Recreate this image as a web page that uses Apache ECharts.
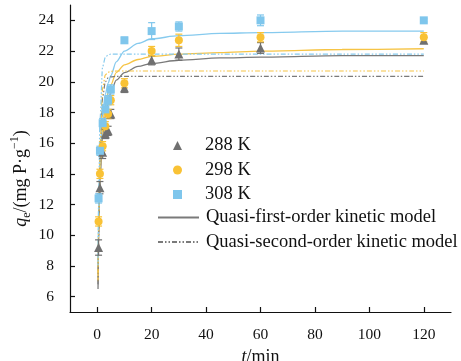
<!DOCTYPE html>
<html>
<head>
<meta charset="UTF-8">
<script src="https://cdn.jsdelivr.net/npm/echarts@6/dist/echarts.min.js"></script>
<style>
  body { margin: 0; padding: 0; background: #fff; }
  #chart { width: 461px; height: 361px; }
</style>
</head>
<body>
<div id="chart"></div>
<script>
// measured adsorption data
const times = [0.5, 1, 2, 3, 4, 5, 10, 20, 30, 60, 120];
const q288 = [9.2, 13.1, 15.4, 16.6, 16.8, 17.9, 19.6, 21.4, 21.8, 22.2, 22.7];
const q298 = [10.9, 14.0, 15.8, 17.1, 17.9, 18.8, 19.9, 22.0, 22.7, 22.9, 22.9];
const q308 = [12.4, 15.5, 17.3, 18.2, 18.8, 19.5, 22.7, 23.3, 23.6, 24.0, 24.0];
const err288 = [0.5, 0.4, 0.4, 0.3, 0.3, 0.3, 0.3, 0.3, 0.4, 0.35, 0.2];
const err298 = [0.3, 0.3, 0.3, 0.3, 0.3, 0.3, 0.3, 0.3, 0.4, 0.3, 0.3];
const err308 = [0.3, 0.3, 0.3, 0.3, 0.3, 0.3, 0.2, 0.55, 0.3, 0.35, 0.1];

// fitted curves
const fitTimes = [0.3, 0.5, 1, 2, 3, 4, 5, 7, 10, 15, 20, 30, 45, 60, 90, 120];
const pfo288 = [6.5, 9.5, 13.5, 16.5, 17.8, 18.7, 19.3, 20.1, 20.6, 21.0, 21.2, 21.4, 21.55, 21.6, 21.7, 21.7];
const pfo298 = [7, 10, 14, 17.2, 18.5, 19.3, 19.8, 20.6, 21.1, 21.45, 21.65, 21.8, 21.9, 22.0, 22.1, 22.15];
const pfo308 = [8, 11, 15, 18, 19.2, 19.9, 20.4, 21.3, 22.0, 22.5, 22.8, 23.0, 23.15, 23.2, 23.3, 23.3];
const pso288 = [6.8, 9.8, 15.0, 19.0, 20.0, 20.25, 20.32, 20.35, 20.35, 20.35, 20.35, 20.35, 20.35, 20.35, 20.35, 20.35];
const pso298 = [7.5, 10.5, 15.8, 19.6, 20.45, 20.62, 20.68, 20.7, 20.7, 20.7, 20.7, 20.7, 20.7, 20.7, 20.7, 20.7];
const pso308 = [8.5, 12.0, 17.5, 21.0, 21.6, 21.75, 21.8, 21.8, 21.8, 21.8, 21.8, 21.8, 21.8, 21.8, 21.8, 21.8];

const xTicks = [0, 20, 40, 60, 80, 100, 120];
const yTicks = [6, 8, 10, 12, 14, 16, 18, 20, 22, 24];

const serieNames = ['288 K', '298 K', '308 K'];
const modelNames = ['Quasi-first-order kinetic model', 'Quasi-second-order kinetic model'];

const colors = ['#707070', '#f9c235', '#7fc6ec'];
const lineColors = ['#7a7a7a', '#f6c445', '#86caee'];
const symbols = ['triangle', 'circle', 'rect'];
const dashDot = [5, 2, 1.5, 2, 1.5, 2];

const FONT = "'Liberation Serif', 'DejaVu Serif', serif";

const chart = echarts.init(document.getElementById('chart'));

const zip = (xs, ys) => xs.map((x, i) => [x, ys[i]]);
const points = [q288, q298, q308];
const errs = [err288, err298, err308];
const pfo = [pfo288, pfo298, pfo308];
const pso = [pso288, pso298, pso308];

const series = [];

// fitted lines
[0, 1, 2].forEach(i => {
    series.push({
        name: modelNames[0], type: 'line', symbol: 'none', smooth: 0.3, smoothMonotone: 'x',
        data: zip(fitTimes, pfo[i]), z: 1,
        lineStyle: { color: lineColors[i], width: 1.3 },
        itemStyle: { color: lineColors[i] }
    });
});
[0, 1, 2].forEach(i => {
    series.push({
        name: modelNames[1], type: 'line', symbol: 'none', smooth: 0.3, smoothMonotone: 'x',
        data: zip(fitTimes, pso[i]), z: 1,
        lineStyle: { color: lineColors[i], width: 1.2, type: dashDot },
        itemStyle: { color: lineColors[i] }
    });
});

// error bars
[0, 1, 2].forEach(i => {
    series.push({
        type: 'custom', z: 2, silent: true,
        data: times.map((t, k) => [t, points[i][k] - errs[i][k], points[i][k] + errs[i][k]]),
        renderItem: function (params, api) {
            const lo = api.coord([api.value(0), api.value(1)]);
            const hi = api.coord([api.value(0), api.value(2)]);
            const w = 3.5;
            const st = { stroke: colors[i], lineWidth: 1.2 };
            return {
                type: 'group',
                children: [
                    { type: 'line', shape: { x1: lo[0], y1: lo[1], x2: hi[0], y2: hi[1] }, style: st },
                    { type: 'line', shape: { x1: lo[0] - w, y1: lo[1], x2: lo[0] + w, y2: lo[1] }, style: st },
                    { type: 'line', shape: { x1: hi[0] - w, y1: hi[1], x2: hi[0] + w, y2: hi[1] }, style: st }
                ]
            };
        }
    });
});

// measured points
[0, 1, 2].forEach(i => {
    series.push({
        name: serieNames[i], type: 'scatter', z: 3,
        symbol: symbols[i], symbolSize: i === 0 ? 9 : 8,
        data: zip(times, points[i]),
        itemStyle: { color: colors[i], opacity: 1 }
    });
});

const option = {
    animation: false,
    backgroundColor: '#fff',
    textStyle: { fontFamily: FONT },
    grid: { left: 70, right: 10, top: 5, bottom: 49, outerBoundsMode: 'none', containLabel: false },
    legend: [{
        orient: 'vertical', left: 173, top: 136, padding: 0,
        itemWidth: 9, itemHeight: 9, itemGap: 5.5,
        data: serieNames,
        textStyle: { fontFamily: FONT, fontSize: 18.5, color: '#111', padding: [0, 0, 0, 18] }
    }, {
        orient: 'vertical', left: 157, top: 208, padding: 0,
        itemWidth: 41, itemHeight: 9, itemGap: 5.5,
        data: modelNames,
        itemStyle: { opacity: 0 },
        textStyle: { fontFamily: FONT, fontSize: 18.5, color: '#111', padding: [0, 0, 0, 2] }
    }],
    xAxis: {
        type: 'value', min: -10, max: 130,
        splitLine: { show: false },
        axisLine: { onZero: false, lineStyle: { color: '#111', width: 1.2 } },
        axisTick: { inside: true, length: 5, customValues: xTicks, lineStyle: { color: '#111', width: 1.2 } },
        axisLabel: { customValues: xTicks, fontFamily: FONT, fontSize: 15.5, color: '#111', margin: 15 },
        name: '{i|t}/min', nameLocation: 'middle', nameGap: 35,
        nameTextStyle: {
            fontFamily: FONT, fontSize: 18, color: '#111',
            rich: { i: { fontFamily: FONT, fontSize: 18, fontStyle: 'italic', color: '#111' } }
        }
    },
    yAxis: {
        type: 'value', min: 5, max: 25,
        splitLine: { show: false },
        axisLine: { onZero: false, lineStyle: { color: '#111', width: 1.2 } },
        axisTick: { inside: true, length: 5, customValues: yTicks, lineStyle: { color: '#111', width: 1.2 } },
        axisLabel: { customValues: yTicks, fontFamily: FONT, fontSize: 15.5, color: '#111', margin: 16 },
        name: '{i|q}{sub|e}/(mg P·g{sup|−1})', nameLocation: 'middle', nameGap: 37,
        nameMoveOverlap: false,
        nameTextStyle: {
            fontFamily: FONT, fontSize: 18, color: '#111', padding: [0, 40, 0, 0],
            rich: {
                i: { fontFamily: FONT, fontSize: 18, fontStyle: 'italic', color: '#111' },
                sub: { fontFamily: FONT, fontSize: 12, color: '#111', verticalAlign: 'bottom', lineHeight: 24 },
                sup: { fontFamily: FONT, fontSize: 12, color: '#111', verticalAlign: 'top', lineHeight: 24 }
            }
        }
    },
    series: series
};

chart.setOption(option);
</script>
</body>
</html>
